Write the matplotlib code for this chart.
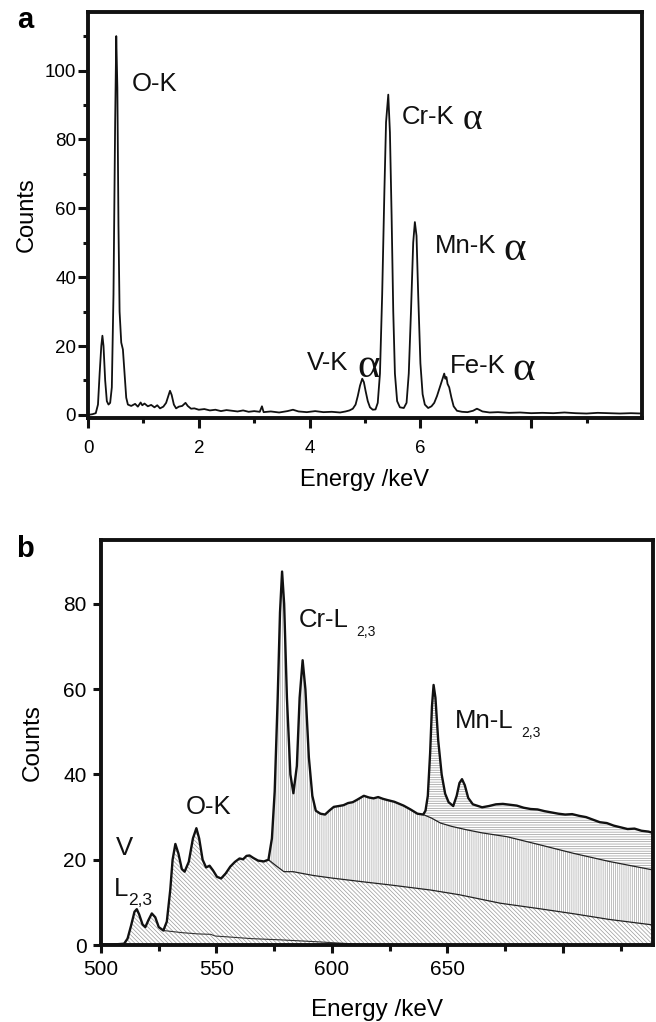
import matplotlib
matplotlib.use("Agg")
import matplotlib.pyplot as plt
import numpy as np
from matplotlib.ticker import FixedLocator

plt.rcParams['font.family'] = ['Liberation Sans', 'DejaVu Sans']
plt.rcParams['hatch.linewidth'] = 0.5

# ---- panel a: EDX spectrum (energy keV, counts)
energy_a = [0.00, 0.08, 0.14, 0.18, 0.21, 0.24, 0.26, 0.28, 0.31, 0.34, 0.37, 0.40,
            0.43, 0.46, 0.49, 0.51, 0.53, 0.55, 0.57, 0.60, 0.63, 0.66, 0.69, 0.72,
            0.78, 0.85, 0.90, 0.95, 0.98, 1.02, 1.08, 1.14, 1.20, 1.25, 1.30, 1.36,
            1.41, 1.45, 1.48, 1.51, 1.55, 1.59, 1.64, 1.70, 1.76, 1.80, 1.86, 1.92,
            2.00, 2.10, 2.20, 2.30, 2.40, 2.50, 2.60, 2.70, 2.80, 2.90, 3.00, 3.10,
            3.14, 3.17, 3.30, 3.45, 3.60, 3.70, 3.80, 3.95, 4.10, 4.25, 4.40, 4.55,
            4.65, 4.72, 4.78, 4.83, 4.87, 4.91, 4.95, 4.98, 5.01, 5.05, 5.09, 5.14,
            5.19, 5.23, 5.27, 5.31, 5.35, 5.38, 5.42, 5.45, 5.48, 5.51, 5.54, 5.58,
            5.63, 5.70, 5.75, 5.79, 5.83, 5.87, 5.90, 5.93, 5.96, 6.00, 6.04, 6.08,
            6.14, 6.20, 6.25, 6.30, 6.35, 6.39, 6.43, 6.45, 6.47, 6.49, 6.52, 6.56,
            6.60, 6.66, 6.75, 6.85, 6.95, 7.02, 7.06, 7.12, 7.25, 7.40, 7.60, 7.80,
            8.00, 8.20, 8.40, 8.60, 8.80, 9.00, 9.20, 9.40, 9.60, 9.80, 10.0]
counts_a = [0.0, 0.2, 0.5, 3, 12, 20, 23, 20, 10, 4, 3, 3.5,
            8, 35, 85, 110, 95, 55, 30, 21, 19, 12, 5, 3,
            2.6, 3.2, 2.4, 3.6, 2.8, 3.3, 2.5, 2.9, 2.2, 2.8, 1.9, 2.4,
            3.5, 5.5, 7, 5.8, 3, 1.9, 2.4, 2.6, 3.5, 2.6, 1.8, 1.9,
            1.5, 1.7, 1.3, 1.5, 1.1, 1.4, 1.2, 1.0, 1.3, 0.9, 1.1, 0.9,
            2.5, 0.8, 1.0, 0.7, 1.1, 1.5, 1.0, 0.8, 1.1, 0.8, 0.9, 0.7,
            1.0, 1.3, 1.8, 3, 5.5, 8.5, 10.5, 9.5, 7, 4, 2.2, 1.5,
            1.6, 3.5, 12, 35, 65, 85, 93, 82, 58, 30, 12, 4,
            2.2, 2.0, 3.5, 12, 30, 50, 56, 52, 35, 15, 6, 3,
            2, 2.5, 3.5, 5.5, 8, 10, 12, 10.5, 11, 9, 8, 5,
            2.5, 1.2, 0.9, 0.8, 1.2, 1.8, 1.5, 1.0, 0.7, 0.8, 0.6, 0.7,
            0.5, 0.6, 0.5, 0.7, 0.5, 0.4, 0.6, 0.5, 0.4, 0.5, 0.4]
xticks_a = [0, 2, 4, 6, 8]
xticklabels_a = ['0', '2', '4', '6', '']
yticks_a = [0, 20, 40, 60, 80, 100]

# ---- panel b: EELS spectrum and fitted backgrounds
energy_b = [500, 505, 510, 511.5, 513, 514.5, 515.5, 516.5, 518, 519.2, 520.5, 522,
            523.5, 525, 527, 528.5, 530, 531, 532.2, 533.5, 535, 536.2, 538, 539.8,
            541.3, 542.5, 544, 545.5, 547, 548.5, 550.2, 552, 554, 556, 558, 560,
            561.5, 563, 564.3, 566, 568, 570.5, 572.5, 574, 575.2, 576.5, 577.5, 578.4,
            579.3, 580.5, 582, 583.3, 584.8, 586, 587.3, 588.5, 590, 591.5, 593, 595,
            597, 599, 600.8, 603, 605, 607, 609, 611, 613.8, 616, 618, 620,
            622, 624, 627, 631, 634, 637, 639.5, 640.5, 641.5, 642.5, 643.3, 644,
            644.8, 646, 647.5, 649, 650.5, 652.5, 654, 655.2, 656.3, 657.5, 659, 661,
            665, 668, 671, 674, 677, 680, 683, 686, 689, 692, 695, 698,
            701, 704, 707, 710, 713, 716, 719, 722, 725, 728, 731, 734,
            737, 739]
counts_b = [0.1, 0.1, 0.3, 1.5, 4.5, 7.8, 8.4, 7.2, 4.8, 4.2, 5.8, 7.4,
            6.5, 4.2, 3.4, 5.5, 13, 20, 23.7, 21.5, 17.8, 17.2, 19.5, 25,
            27.4, 25, 20, 18.2, 18.6, 17.5, 16, 15.6, 16.8, 18.4, 19.5, 20.3,
            20.1, 20.9, 21, 20.4, 19.8, 19.6, 20, 25, 36, 58, 78, 87.6,
            80, 58, 40, 35.6, 42, 58, 66.8, 60, 44, 35, 31.5, 30.8,
            30.6, 31.6, 32.4, 32.6, 32.8, 33.3, 33.5, 34.1, 35, 34.6, 34.4, 34.7,
            34.3, 34.0, 33.6, 32.7, 31.8, 30.8, 30.6, 31.5, 35, 45, 56, 61,
            58, 48, 40, 35.5, 33.5, 32.6, 35, 38, 38.9, 37.5, 34.5, 33,
            32.3, 32.6, 33, 33.1, 32.9, 32.7, 32.2, 31.9, 31.8, 31.4, 31.1, 30.8,
            30.6, 30.7, 30.3, 30.0, 29.4, 28.8, 28.6, 28.0, 27.6, 27.2, 27.3, 26.8,
            26.6, 26.3]
# V-L background
bg_v_energy = [527, 535, 542, 547.5, 549.5, 555, 565, 578, 592, 605, 615]
bg_v_counts = [3.4, 2.9, 2.6, 2.5, 2.1, 1.9, 1.5, 1.2, 0.8, 0.4, 0.05]
# O-K background (under Cr-L)
bg_o_energy = [572.5, 576, 579.2, 583.2, 586, 592, 600, 613.8, 625, 642.6, 655,
               672.9, 690, 705, 720, 739]
bg_o_counts = [20, 18.5, 17.2, 17.2, 16.9, 16.3, 15.7, 14.8, 14.1, 12.9, 11.8,
               9.8, 8.5, 7.3, 6.0, 4.7]
# Cr-L background (under Mn-L)
bg_cr_energy = [639.5, 643, 647, 652, 658.5, 665, 675.8, 690, 704.6, 720, 739]
bg_cr_counts = [30.6, 29.8, 28.6, 27.8, 27, 26.3, 25.4, 23.5, 21.5, 19.6, 17.6]
xticks_b = [500, 550, 600, 650, 700]
xticklabels_b = ['500', '550', '600', '650', '']
yticks_b = [0, 20, 40, 60, 80]

fig = plt.figure(figsize=(6.56, 10.22), dpi=100)
W, H = 656.0, 1022.0
ax1 = fig.add_axes([88 / W, 1 - 418 / H, (642 - 88) / W, (418 - 12) / H])
ax2 = fig.add_axes([101 / W, 1 - 945 / H, (653 - 101) / W, (945 - 540) / H])

for ax in (ax1, ax2):
    for sp in ax.spines.values():
        sp.set_linewidth(2.8)
        sp.set_color('#111111')

# ---------------- panel a
ax1.plot(energy_a, counts_a, color='#111111', lw=1.3)
ax1.set_xlim(0, 10)
ax1.set_ylim(-0.9, 117)
ax1.xaxis.set_major_locator(FixedLocator(xticks_a))
ax1.set_xticklabels(xticklabels_a)
ax1.xaxis.set_minor_locator(FixedLocator([1, 3, 5, 7, 9]))
ax1.yaxis.set_major_locator(FixedLocator(yticks_a))
ax1.yaxis.set_minor_locator(FixedLocator([10, 30, 50, 70, 90, 110]))
ax1.tick_params(which='major', direction='out', length=7, width=2.2,
                labelsize=13.5, color='#111111')
ax1.tick_params(which='minor', direction='out', length=3.5, width=2.2, color='#111111')
ax1.tick_params(axis='x', pad=8.5)
ax1.tick_params(axis='y', pad=1.5)
ax1.set_xlabel('Energy /keV', fontsize=17, labelpad=9)
ax1.set_ylabel('Counts', fontsize=17, labelpad=5)

lab_kw = dict(fontsize=18.5, va='baseline', ha='left', color='#111111')
alpha_kw = dict(family=['Liberation Serif', 'DejaVu Serif'], va='baseline', ha='left',
                color='#111111', textcoords='offset points')
ax1.text(0.79, 94, 'O-K', **lab_kw)
t = ax1.text(5.66, 84.5, 'Cr-K', **lab_kw)
ax1.annotate('\u03b1', xy=(1, 0), xycoords=t, xytext=(6, 0), fontsize=27, **alpha_kw)
t = ax1.text(6.27, 47, 'Mn-K', **lab_kw)
ax1.annotate('\u03b1', xy=(1, 0), xycoords=t, xytext=(5, -1.5), fontsize=31, **alpha_kw)
t = ax1.text(3.96, 13.1, 'V-K', **lab_kw)
ax1.annotate('\u03b1', xy=(1, 0), xycoords=t, xytext=(6, -1.5), fontsize=31, **alpha_kw)
t = ax1.text(6.53, 12.1, 'Fe-K', **lab_kw)
ax1.annotate('\u03b1', xy=(1, 0), xycoords=t, xytext=(5, -1.5), fontsize=31, **alpha_kw)

fig.text(17 / W, 1 - 28 / H, 'a', fontsize=21, fontweight='bold', va='baseline')

# ---------------- panel b
eb = np.array(energy_b)
cb = np.array(counts_b)
bo_e = np.array(bg_o_energy)
bo_c = np.array(bg_o_counts)
bc_e = np.array(bg_cr_energy)
bc_c = np.array(bg_cr_counts)

# O-K + V region (under spectrum up to Cr onset, then under O-K background)
m1 = eb <= 572.5
poly_x = np.concatenate([eb[m1], bo_e[1:], [739, 500]])
poly_y = np.concatenate([cb[m1], bo_c[1:], [0, 0]])
ax2.fill(poly_x, poly_y, facecolor='white', edgecolor='0.6', hatch='\\' * 8,
         linewidth=0, zorder=1)

# Cr-L region (vertical hatch)
m2 = (eb >= 572.5) & (eb <= 639.5)
poly_x = np.concatenate([eb[m2], bc_e[1:], bo_e[::-1]])
poly_y = np.concatenate([cb[m2], bc_c[1:], bo_c[::-1]])
ax2.fill(poly_x, poly_y, facecolor='white', edgecolor='0.65', hatch='|' * 8,
         linewidth=0, zorder=1)

# Mn-L region (horizontal hatch)
m3 = eb >= 639.5
poly_x = np.concatenate([eb[m3], bc_e[::-1]])
poly_y = np.concatenate([cb[m3], bc_c[::-1]])
ax2.fill(poly_x, poly_y, facecolor='white', edgecolor='0.6', hatch='-' * 7,
         linewidth=0, zorder=1)

ax2.plot(bg_v_energy, bg_v_counts, color='#333333', lw=0.8, zorder=2)
ax2.plot(bg_o_energy, bg_o_counts, color='#222222', lw=0.9, zorder=2)
ax2.plot(bg_cr_energy, bg_cr_counts, color='#222222', lw=0.9, zorder=2)
ax2.plot(energy_b, counts_b, color='#111111', lw=1.7, zorder=3)

ax2.set_xlim(500, 739)
ax2.set_ylim(0, 95)
ax2.xaxis.set_major_locator(FixedLocator(xticks_b))
ax2.set_xticklabels(xticklabels_b)
ax2.xaxis.set_minor_locator(FixedLocator([525, 575, 625, 675, 725]))
ax2.yaxis.set_major_locator(FixedLocator(yticks_b))
ax2.tick_params(which='major', direction='out', length=6, width=2.2,
                labelsize=15, color='#111111')
ax2.tick_params(which='minor', direction='out', length=4, width=2.2, color='#111111')
ax2.tick_params(axis='x', pad=5)
ax2.tick_params(axis='y', pad=4.5)
ax2.set_xlabel('Energy /keV', fontsize=17.5, labelpad=14)
ax2.set_ylabel('Counts', fontsize=17.5, labelpad=14)

sub_kw = dict(va='baseline', ha='left', color='#111111', textcoords='offset points')
t = ax2.text(585.5, 74.7, 'Cr-L', zorder=4, **lab_kw)
ax2.annotate('2,3', xy=(1, 0), xycoords=t, xytext=(6, -3), fontsize=10, **sub_kw)
t = ax2.text(653.1, 51, 'Mn-L', zorder=4, **lab_kw)
ax2.annotate('2,3', xy=(1, 0), xycoords=t, xytext=(6, -3), fontsize=10, **sub_kw)
ax2.text(536.8, 30.7, 'O-K', zorder=4, **lab_kw)
ax2.text(506.3, 21.1, 'V', zorder=4, **lab_kw)
t = ax2.text(505.4, 11.5, 'L', zorder=4, **lab_kw)
ax2.annotate('2,3', xy=(1, 0), xycoords=t, xytext=(0, -3), fontsize=12.5, **sub_kw)

fig.text(16 / W, 1 - 557 / H, 'b', fontsize=21, fontweight='bold', va='baseline')

fig.savefig('out.png', dpi=100)
